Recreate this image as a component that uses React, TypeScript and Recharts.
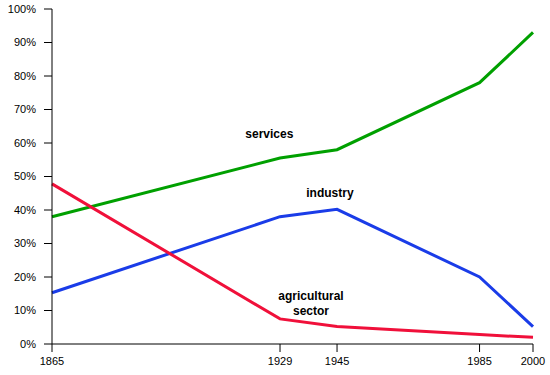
import React from 'react';
import {
  LineChart,
  Line,
  XAxis,
  YAxis,
  ReferenceDot,
} from 'recharts';

const years = [1865, 1929, 1945, 1985, 2000];
const services = [38, 55.5, 58, 78, 93];
const industry = [15.3, 38, 40.2, 20, 5.2];
const agricultural = [47.8, 7.5, 5.2, 2.8, 2];
const yTicks = [0, 10, 20, 30, 40, 50, 60, 70, 80, 90, 100];

const data = years.map((year, i) => ({
  year,
  services: services[i],
  industry: industry[i],
  agricultural: agricultural[i],
}));

const font = '"Liberation Sans", Arial, sans-serif';

const labelStyle = {
  fontFamily: font,
  fontSize: 12,
  fontWeight: 'bold' as const,
  fill: '#000',
};

const textLabel = (text: string) => (props: any) => {
  const { viewBox } = props;
  const cx = viewBox.x + (viewBox.width || 0) / 2;
  const cy = viewBox.y + (viewBox.height || 0) / 2;
  return (
    <text x={cx} y={cy} textAnchor="middle" dominantBaseline="central" style={labelStyle}>
      {text}
    </text>
  );
};

const App: React.FC = () => {
  return (
    <div style={{ position: 'absolute', left: 0, top: 0, width: 550, height: 375, background: '#fff' }}>
      <style>{`body { overflow: hidden; } .recharts-surface, .recharts-wrapper { overflow: visible !important; }`}</style>
      <LineChart
        width={550}
        height={375}
        data={data}
        margin={{ top: 9, right: 17, left: 0, bottom: 6 }}
      >
        <XAxis
          dataKey="year"
          type="number"
          domain={[1865, 2000]}
          ticks={years}
          tickSize={8}
          tickMargin={5}
          height={25}
          stroke="#000"
          tick={{ fill: '#000', fontFamily: font, fontSize: 11 }}
        />
        <YAxis
          domain={[0, 100]}
          ticks={yTicks}
          tickFormatter={(v) => `${v}%`}
          width={52}
          tickSize={8}
          tickMargin={8}
          stroke="#000"
          tick={{ fill: '#000', fontFamily: font, fontSize: 11 }}
        />
        <Line
          dataKey="services"
          stroke="#00a000"
          strokeWidth={3}
          dot={false}
          isAnimationActive={false}
        />
        <Line
          dataKey="industry"
          stroke="#1a3ce8"
          strokeWidth={3}
          dot={false}
          isAnimationActive={false}
        />
        <Line
          dataKey="agricultural"
          stroke="#f0103a"
          strokeWidth={3}
          dot={false}
          isAnimationActive={false}
        />
        <ReferenceDot x={1926} y={62.7} r={0} stroke="none" label={textLabel('services')} />
        <ReferenceDot x={1943} y={45} r={0} stroke="none" label={textLabel('industry')} />
        <ReferenceDot x={1937.7} y={14.3} r={0} stroke="none" label={textLabel('agricultural')} />
        <ReferenceDot x={1937.7} y={9.9} r={0} stroke="none" label={textLabel('sector')} />
      </LineChart>
    </div>
  );
};

export default App;
